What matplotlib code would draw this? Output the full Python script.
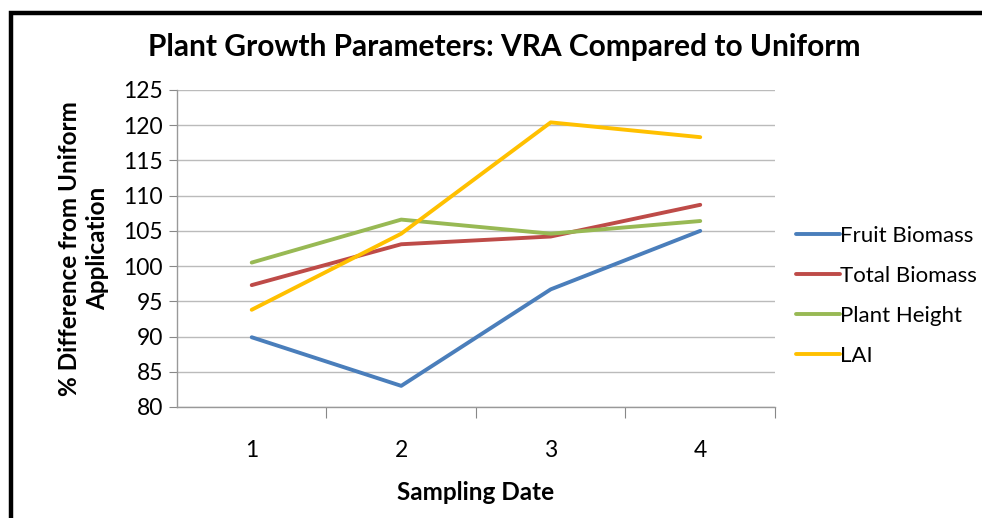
import matplotlib
matplotlib.use("Agg")
import matplotlib.pyplot as plt
from matplotlib.patches import Rectangle

# Chart data
dates = [1, 2, 3, 4]
fruit_biomass = [89.9, 83.0, 96.7, 105.0]
total_biomass = [97.3, 103.1, 104.2, 108.7]
plant_height = [100.5, 106.6, 104.6, 106.4]
lai = [93.8, 104.6, 120.4, 118.3]

series_names = ["Fruit Biomass", "Total Biomass", "Plant Height", "LAI"]
colors = ["#4A7EBB", "#BE4B48", "#98B954", "#FFC000"]
y_ticks = list(range(80, 126, 5))

plt.rcParams["font.family"] = ["Lato", "DejaVu Sans"]

fig = plt.figure(figsize=(9.82, 5.18), dpi=100)
ax = fig.add_axes([0.1802, 0.2143, 0.609, 0.612])

for vals, name, col in zip([fruit_biomass, total_biomass, plant_height, lai],
                           series_names, colors):
    ax.plot(dates, vals, color=col, lw=2.8, label=name, solid_capstyle="round")

ax.set_xlim(0.5, 4.5)
ax.set_ylim(80, 125)
ax.set_yticks(y_ticks)
ax.set_yticklabels([str(v) for v in y_ticks], fontsize=16.5)
ax.set_xticks([1.5, 2.5, 3.5, 4.5], minor=False)
ax.set_xticklabels([])
ax.set_xticks(dates, minor=True)
ax.set_xticklabels([str(d) for d in dates], minor=True, fontsize=16.5)
ax.tick_params(axis="x", which="major", length=8, color="#888888", direction="out")
ax.tick_params(axis="x", which="minor", length=0, pad=24)
ax.tick_params(axis="y", length=6, color="#888888", direction="out", pad=4)

ax.grid(axis="y", color="#BBBBBB", lw=1)
ax.set_axisbelow(True)
for s in ["top", "right"]:
    ax.spines[s].set_visible(False)
for s in ["left", "bottom"]:
    ax.spines[s].set_color("#999999")
    ax.spines[s].set_linewidth(1)

ax.set_xlabel("Sampling Date", fontsize=17.5, fontweight="bold", labelpad=14)
ax.set_ylabel("% Difference from Uniform\nApplication", fontsize=17.5,
              fontweight="bold", labelpad=10, linespacing=1.3)

fig.text(0.513, 0.909, "Plant Growth Parameters: VRA Compared to Uniform",
         ha="center", va="center", fontsize=21.5, fontweight="bold")

leg = ax.legend(loc="center left", bbox_to_anchor=(1.02, 0.35), frameon=False,
                fontsize=16, handlelength=2.0, handletextpad=0.0,
                labelspacing=0.9, borderaxespad=0)

# black frame around the figure that runs off the right and bottom edges
fig.patches.append(Rectangle((11 / 982, -0.1), 1.2, 1 - 13 / 518 + 0.1,
                             transform=fig.transFigure, fill=False,
                             edgecolor="black", lw=3.2))

fig.savefig("out.png", dpi=100)
